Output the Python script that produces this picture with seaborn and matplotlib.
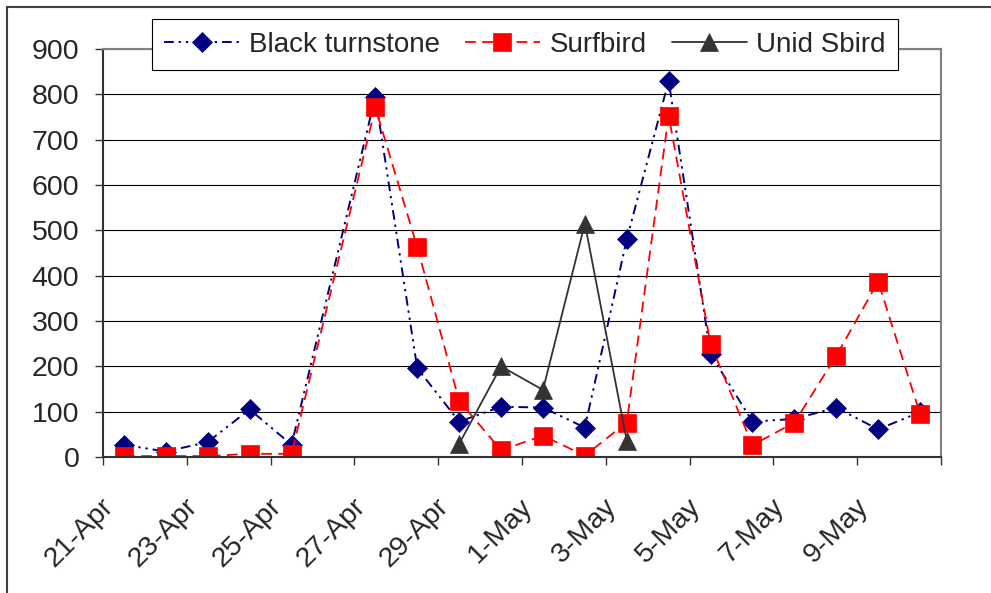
import matplotlib
matplotlib.use("Agg")
import matplotlib.pyplot as plt
from matplotlib.patches import Rectangle
from matplotlib.transforms import ScaledTranslation
import seaborn as sns
import pandas as pd

# ---- data ----
bs_dates = ["21-Apr", "22-Apr", "23-Apr", "24-Apr", "25-Apr", "27-Apr", "28-Apr",
            "29-Apr", "30-Apr", "1-May", "2-May", "3-May", "4-May", "5-May",
            "6-May", "7-May", "8-May", "9-May", "10-May"]
black_turnstone = [27, 12, 33, 105, 27, 795, 196, 78, 111, 109, 65, 480, 830,
                   227, 78, 84, 109, 61, 99]
surfbird = [2, 2, 2, 7, 7, 771, 463, 124, 15, 47, 3, 76, 753, 249, 26, 76, 223,
            387, 95]
unid_dates = ["29-Apr", "30-Apr", "1-May", "2-May", "3-May"]
unid_sbird = [29, 200, 148, 515, 36]

tick_dates = ["21-Apr", "23-Apr", "25-Apr", "27-Apr", "29-Apr", "1-May",
              "3-May", "5-May", "7-May", "9-May", "11-May"]
tick_labels = ["21-Apr", "23-Apr", "25-Apr", "27-Apr", "29-Apr", "1-May",
               "3-May", "5-May", "7-May", "9-May", ""]
y_ticks = [0, 100, 200, 300, 400, 500, 600, 700, 800, 900]
YEAR = "2008"


def to_dt(labels):
    return pd.to_datetime([s + "-" + YEAR for s in labels], format="%d-%b-%Y")


half_day = pd.Timedelta(hours=12)
df_main = pd.DataFrame({"date": to_dt(bs_dates) + half_day,
                        "bt": black_turnstone, "sb": surfbird})
df_unid = pd.DataFrame({"date": to_dt(unid_dates) + half_day, "u": unid_sbird})

sns.set_style("white")
plt.rcParams["font.family"] = ["Liberation Sans", "DejaVu Sans"]

fig = plt.figure(figsize=(9.91, 5.93), dpi=100)
W, H = 991, 593
ax = fig.add_axes([103 / W, 1 - 457 / H, (941 - 103) / W, (457 - 49) / H])

navy = "#000080"
red = "#FF0000"
dark = "#333333"

sns.lineplot(data=df_main, x="date", y="bt", ax=ax, color=navy,
             linestyle=(0, (5, 2.5, 1.2, 2.5, 1.2, 2.5)), linewidth=1.4,
             marker="D", markersize=10.5, markeredgecolor=navy,
             markeredgewidth=0.5, label="Black turnstone")
sns.lineplot(data=df_main, x="date", y="sb", ax=ax, color=red,
             linestyle=(0, (6, 3.5)), linewidth=1.3,
             marker="s", markersize=13.5, markeredgecolor=red,
             markeredgewidth=0.5, label="Surfbird")
sns.lineplot(data=df_unid, x="date", y="u", ax=ax, color=dark,
             linestyle="-", linewidth=1.3,
             marker="^", markersize=13.5, markeredgecolor=dark,
             markeredgewidth=0.5, label="Unid Sbird")

ax.set_xlim(to_dt(["21-Apr"])[0], to_dt(["11-May"])[0])
ax.set_ylim(0, 900)
ax.set_xticks(to_dt(tick_dates))
ax.set_xticklabels(tick_labels, rotation=45, ha="right", va="center",
                   rotation_mode="anchor")
ax.set_yticks(y_ticks)
ax.set_yticklabels([str(v) for v in y_ticks])
ax.set_xlabel("")
ax.set_ylabel("")

ax.grid(axis="y", color="black", linewidth=0.8)
ax.grid(axis="x", visible=False)
ax.set_axisbelow(True)

for side in ["left", "bottom"]:
    ax.spines[side].set_color(dark)
    ax.spines[side].set_linewidth(1.5)
for side in ["top", "right"]:
    ax.spines[side].set_color("#808080")
    ax.spines[side].set_linewidth(1.5)

ax.tick_params(axis="y", direction="out", length=6, width=1, color=dark,
               labelsize=20.5, pad=11, left=True)
ax.tick_params(axis="x", direction="out", length=6, width=1, color=dark,
               labelsize=20.5, pad=27, bottom=True)

shift = ScaledTranslation(7 / 100, 0, fig.dpi_scale_trans)
for lbl in ax.get_xticklabels():
    lbl.set_transform(lbl.get_transform() + shift)

leg = ax.legend(loc="center", bbox_to_anchor=(525 / W, 1 - 44.5 / H),
                bbox_transform=fig.transFigure, ncol=3, frameon=True,
                fancybox=False, edgecolor="black", framealpha=1,
                fontsize=20, handlelength=2.7, handletextpad=0.35,
                columnspacing=0.9, borderpad=0.45, borderaxespad=0)
leg.get_frame().set_linewidth(0.8)

# outer chart frame (only top and left edges are inside the image)
fig.add_artist(Rectangle((6.5 / W, -0.5), 2, 1.5 - 7 / H,
                         transform=fig.transFigure, fill=False,
                         edgecolor="#404040", linewidth=1.5))

fig.savefig("out.png", dpi=100)
